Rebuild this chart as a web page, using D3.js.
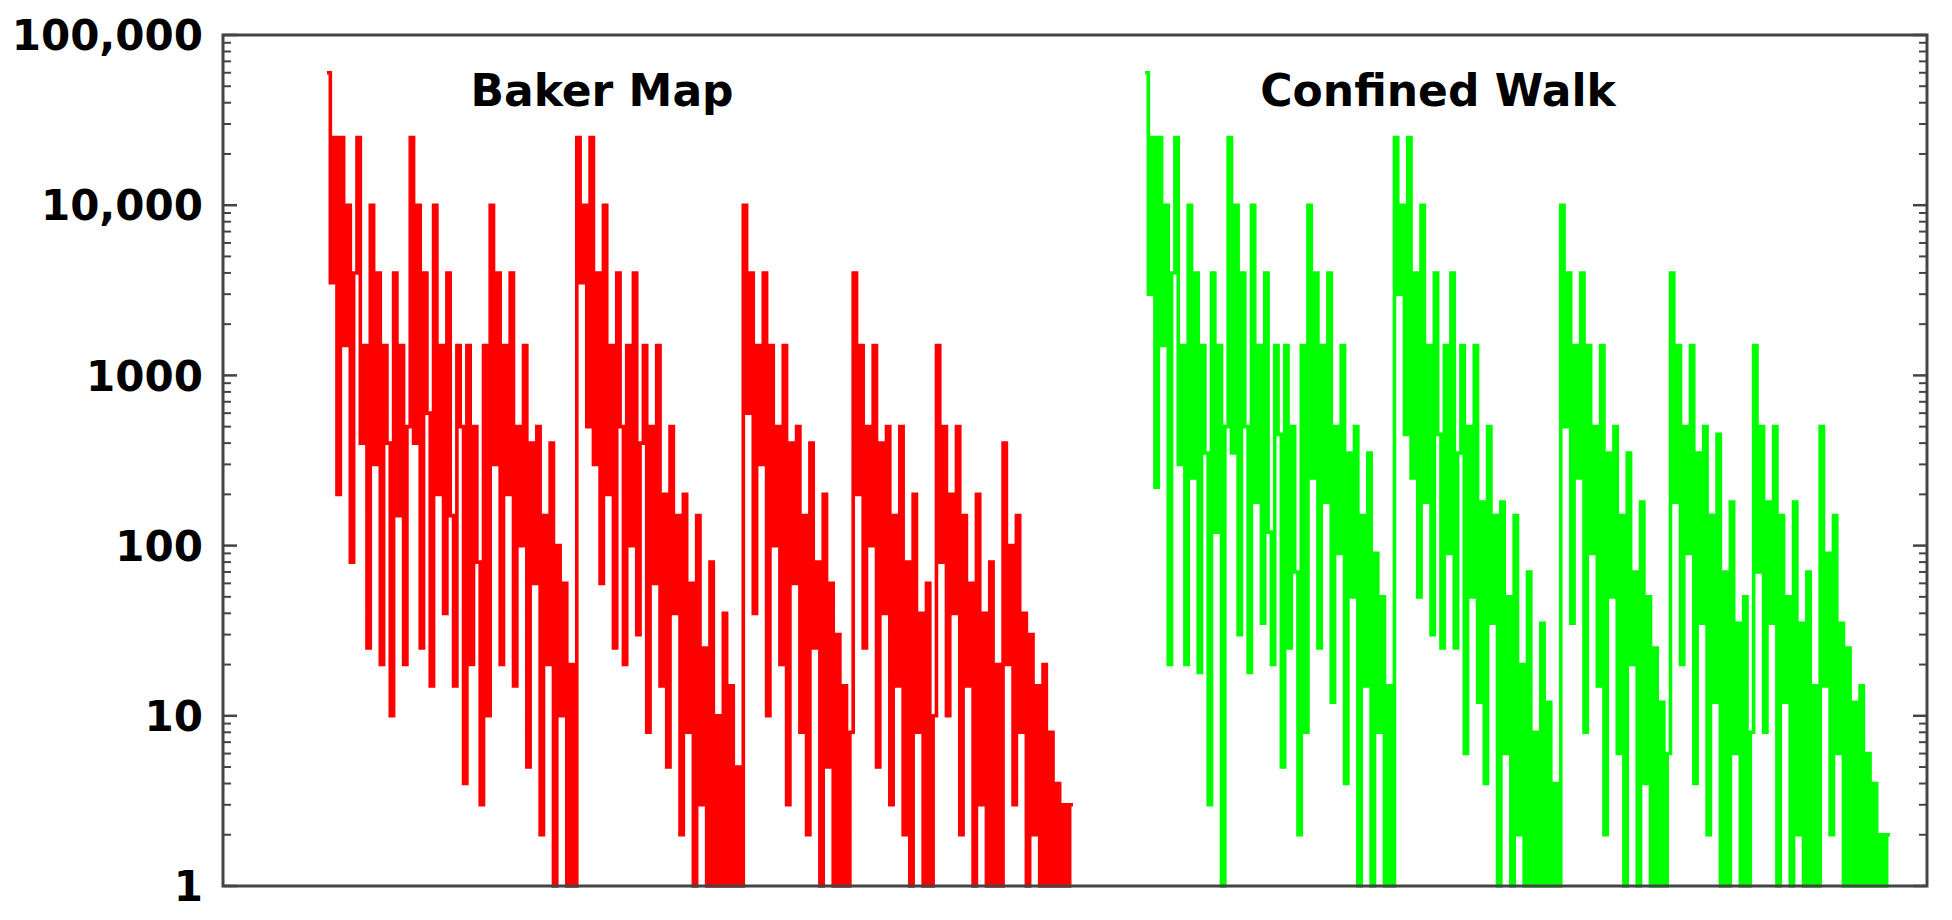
<!DOCTYPE html>
<html><head><meta charset="utf-8">
<script src="https://cdn.jsdelivr.net/npm/d3@7"></script>
<style>body{margin:0;background:#fff}text{font-family:"DejaVu Sans",sans-serif;font-weight:bold}</style>
</head><body><svg width="1952" height="920"></svg>
<script>
var tickVals = [1, 10, 100, 1000, 10000, 100000]
var tickLabels = ["1", "10", "100", "1000", "10,000", "100,000"]
var titles = ["Baker Map", "Confined Walk"]

var bakerMap = [
  60000,3500,25000,200,25000,1500,10000,80,4000,25000,400,1500,25,10000,300,4000,20,1500,400,10,4000,150,1500,20,500,
  25000,400,10000,25,4000,600,15,10000,200,1500,40,4000,150,15,1500,500,4,1500,20,500,80,3,1500,10,10000,300,4000,20,1500,200,4000,15,500,100,1500,5,400,60,500,2,150,20,400,0,100,10,60,0,20,0,
  25000,3500,10000,500,25000,300,4000,60,10000,200,1500,25,4000,500,20,1500,100,4000,30,400,1500,8,500,60,1500,15,200,5,500,40,150,2,200,8,60,0,150,3,25,0,80,0,10,0,40,1,15,0,5,0,
  10000,600,4000,40,1500,300,4000,10,1500,100,500,20,1500,3,400,60,500,8,150,2,400,25,80,0,200,5,60,0,30,0,15,0,8,
  4000,200,1500,25,500,100,1500,5,400,40,500,3,150,15,500,2,80,0,200,8,40,0,60,0,10,
  1500,80,500,10,200,40,500,2,150,15,60,0,200,3,40,0,80,1,20,0,
  400,20,100,3,150,8,40,0,30,2,15,0,20,0,8,0,4,0,3,1,3,3
]
var confinedWalk = [
  60000,3000,25000,220,25000,1500,10000,20,4000,25000,300,1500,20,10000,250,4000,18,1500,350,3,4000,120,1500,0,500,
  25000,350,10000,30,4000,500,18,10000,180,1500,35,4000,120,20,1500,450,5,1500,25,500,70,2,1500,8,10000,250,4000,25,1500,180,4000,12,500,90,1500,4,350,50,500,1,150,15,350,0,90,8,50,0,15,0,
  25000,3000,10000,450,25000,250,4000,50,10000,180,1500,30,4000,450,25,1500,90,4000,25,350,1500,6,500,50,1500,12,180,4,500,35,150,1,180,6,50,0,150,2,20,0,70,0,8,0,35,0,12,0,4,0,
  10000,500,4000,35,1500,250,4000,8,1500,90,500,15,1500,2,350,50,500,6,150,1,350,20,70,0,180,4,50,0,25,0,12,0,6,
  4000,180,1500,20,500,90,1500,4,350,35,500,2,150,12,450,1,70,0,180,6,35,0,50,0,8,
  1500,70,500,8,180,35,500,1,150,12,50,0,180,2,35,0,70,0,15,0,
  500,15,90,2,150,6,35,0,25,1,12,0,15,0,6,0,4,0,2,1,2,2
]

var svg = d3.select("svg")
var L = 223, R = 1927, T = 35, B = 886
var y = d3.scaleLog().domain([1, 100000]).range([B, T])

var xRed = d3.scaleLinear().domain([0, bakerMap.length - 1]).range([327, 1073])
var xGreen = d3.scaleLinear().domain([0, confinedWalk.length - 1]).range([1145, 1890])

function drawSeries(data, x, color) {
  var line = d3.line()
    .x(function(d, i){ return x(i) })
    .y(function(d){ return y(Math.max(1, d)) })
    .curve(d3.curveStepAfter)
  svg.append("path")
    .datum(data)
    .attr("d", line)
    .attr("fill", "none")
    .attr("stroke", color)
    .attr("stroke-width", 3.6)
}
drawSeries(bakerMap, xRed, "#ff0000")
drawSeries(confinedWalk, xGreen, "#00ff00")

// frame
svg.append("rect").attr("x", L).attr("y", T).attr("width", R - L).attr("height", B - T)
  .attr("fill", "none").attr("stroke", "#444").attr("stroke-width", 3)

// minor and major ticks on both sides
var minors = []
for (var e = 0; e < 5; e++) for (var k = 2; k <= 9; k++) minors.push(k * Math.pow(10, e))
minors.forEach(function(v){
  svg.append("line").attr("x1", L).attr("x2", L + 8).attr("y1", y(v)).attr("y2", y(v)).attr("stroke", "#444").attr("stroke-width", 2)
  svg.append("line").attr("x1", R).attr("x2", R - 8).attr("y1", y(v)).attr("y2", y(v)).attr("stroke", "#444").attr("stroke-width", 2)
})
tickVals.forEach(function(v, i){
  svg.append("line").attr("x1", L).attr("x2", L + 14).attr("y1", y(v)).attr("y2", y(v)).attr("stroke", "#444").attr("stroke-width", 2.5)
  svg.append("line").attr("x1", R).attr("x2", R - 14).attr("y1", y(v)).attr("y2", y(v)).attr("stroke", "#444").attr("stroke-width", 2.5)
  svg.append("text").attr("x", 203).attr("y", y(v)).attr("dy", "0.36em")
    .attr("text-anchor", "end").attr("font-size", 42).text(tickLabels[i])
})

svg.append("text").attr("x", 602).attr("y", 106).attr("text-anchor", "middle").attr("font-size", 44).text(titles[0])
svg.append("text").attr("x", 1438).attr("y", 106).attr("text-anchor", "middle").attr("font-size", 44).text(titles[1])
</script></body></html>
